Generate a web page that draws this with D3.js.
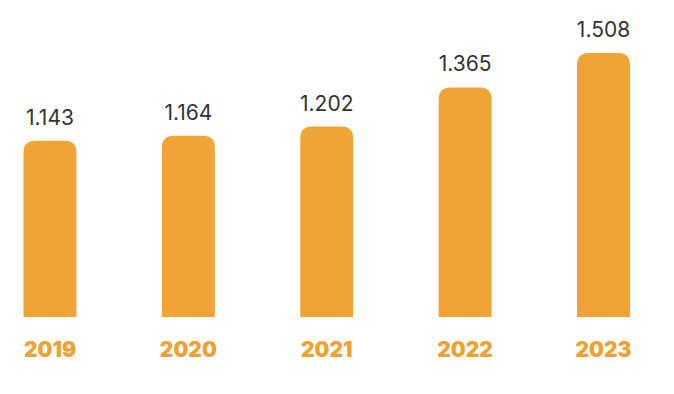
<!DOCTYPE html>
<html lang="en">
<head>
    <meta charset="UTF-8">
    <script src="https://d3js.org/d3.v7.min.js"></script>
    <style>
        body { margin: 0; background: #fff; }
        svg { display: block; }
    </style>
</head>
<body>
    <script>
        // data
        var years = ["2019", "2020", "2021", "2022", "2023"]
        var values = [1.143, 1.164, 1.202, 1.365, 1.508]
        var valueLabels = ["1.143", "1.164", "1.202", "1.365", "1.508"]

        var width = 674,
            height = 394,
            barWidth = 53,
            radius = 12,
            baseY = 317

        var barColor = "#efa535"

        var svg = d3.select("body").append("svg")
            .attr("width", width)
            .attr("height", height)

        // bar centres
        var x = d3.scalePoint()
            .domain(years)
            .range([50, 603.5])

        // bars do not start from zero in the original
        var y = d3.scaleLinear()
            .domain([0.41, 1.508])
            .range([baseY, 53])

        // rect with rounded top corners only
        function topRounded(x0, y0, w, h, r) {
            return "M" + x0 + "," + (y0 + h) +
                "V" + (y0 + r) +
                "Q" + x0 + "," + y0 + " " + (x0 + r) + "," + y0 +
                "H" + (x0 + w - r) +
                "Q" + (x0 + w) + "," + y0 + " " + (x0 + w) + "," + (y0 + r) +
                "V" + (y0 + h) + "Z"
        }

        var data = years.map(function (d, i) {
            return { year: d, value: values[i], label: valueLabels[i] }
        })

        svg.selectAll("path.bar")
            .data(data)
            .join("path")
            .attr("class", "bar")
            .attr("fill", barColor)
            .attr("d", function (d) {
                var top = y(d.value)
                return topRounded(x(d.year) - barWidth / 2, top, barWidth, baseY - top, radius)
            })

        // value labels above bars
        svg.selectAll("text.value")
            .data(data)
            .join("text")
            .attr("class", "value")
            .attr("x", function (d) { return x(d.year) })
            .attr("y", function (d) { return y(d.value) - 16 })
            .attr("text-anchor", "middle")
            .attr("font-family", "Inter, sans-serif")
            .attr("font-size", 21)
            .attr("fill", "#333333")
            .text(function (d) { return d.label })

        // year labels
        svg.selectAll("text.year")
            .data(data)
            .join("text")
            .attr("class", "year")
            .attr("x", function (d) { return x(d.year) })
            .attr("y", 357)
            .attr("text-anchor", "middle")
            .attr("font-family", "Inter, sans-serif")
            .attr("font-weight", 900)
            .attr("font-size", 21)
            .attr("fill", "#eda233")
            .text(function (d) { return d.year })
    </script>
</body>
</html>
